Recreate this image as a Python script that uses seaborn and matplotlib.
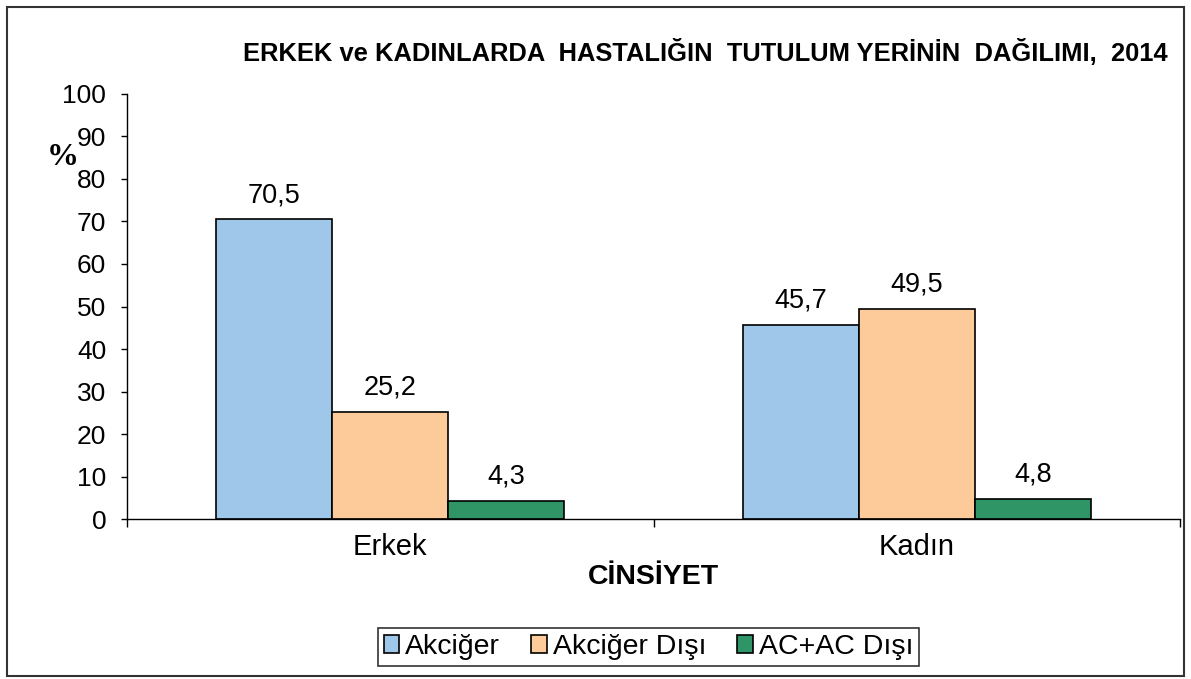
import matplotlib
matplotlib.use("Agg")
import matplotlib.pyplot as plt
import seaborn as sns
import pandas as pd
from matplotlib.patches import Rectangle

categories = ["Erkek", "Kadın"]
series = ["Akciğer", "Akciğer Dışı", "AC+AC Dışı"]
akciger = [70.5, 45.7]
akciger_disi = [25.2, 49.5]
ac_ac_disi = [4.3, 4.8]
yticks = [0, 10, 20, 30, 40, 50, 60, 70, 80, 90, 100]
colors = ["#9FC7EA", "#FCCB99", "#2F9566"]

sns.set_theme(style="white")
plt.rcParams['font.family'] = ['Liberation Sans', 'DejaVu Sans']
plt.rcParams['text.color'] = 'black'
plt.rcParams['axes.labelcolor'] = 'black'
plt.rcParams['xtick.color'] = 'black'
plt.rcParams['ytick.color'] = 'black'

rows = []
for s, vals in zip(series, [akciger, akciger_disi, ac_ac_disi]):
    for c, v in zip(categories, vals):
        rows.append({"Cinsiyet": c, "Seri": s, "Değer": v})
df = pd.DataFrame(rows)

fig = plt.figure(figsize=(11.91, 6.79), dpi=100)
ax = fig.add_axes([0.1066, 0.2356, 0.8844, 0.626])

sns.barplot(data=df, x="Cinsiyet", y="Değer", hue="Seri", order=categories,
            hue_order=series, palette=colors, width=0.66, gap=0,
            edgecolor="black", linewidth=1.2, saturation=1, ax=ax, legend=True)

for cont in ax.containers:
    ax.bar_label(cont, labels=[f"{v:.1f}".replace(".", ",") for v in cont.datavalues],
                 padding=8, fontsize=19.5, color="black")

ax.set_ylim(0, 100)
ax.set_xlim(-0.5, 1.5)
ax.set_yticks(yticks)
ax.set_yticklabels([str(t) for t in yticks], fontsize=19)
ax.set_xticks([0, 1])
ax.set_xticklabels(categories, fontsize=21)
ax.set_xticks([-0.5, 0.5, 1.5], minor=True)
ax.tick_params(axis="x", which="major", length=0, pad=10)
ax.tick_params(axis="x", which="minor", length=6, width=1, color="black", direction="out", bottom=True)
ax.tick_params(axis="y", which="major", length=4, width=1, color="black", direction="out", left=True, pad=11)
for s in ["top", "right"]:
    ax.spines[s].set_visible(False)
for s in ["left", "bottom"]:
    ax.spines[s].set_color("black")
    ax.spines[s].set_linewidth(1)

ax.set_ylabel("")
ax.set_xlabel("CİNSİYET", fontsize=20.5, fontweight="bold", labelpad=2)

fig.text(0.0525, 0.768, "%", fontsize=23, fontweight="bold",
         family=["Liberation Serif", "DejaVu Serif"], ha="center", va="center")
fig.text(0.592, 0.923, "ERKEK ve KADINLARDA  HASTALIĞIN  TUTULUM YERİNİN  DAĞILIMI,  2014",
         fontsize=18.4, fontweight="bold", ha="center", va="center")

handles, labels = ax.get_legend_handles_labels()
ax.legend_.remove()
leg = fig.legend(handles, labels, loc="center", bbox_to_anchor=(0.5445, 0.047), ncol=3,
                 fontsize=20.5, frameon=True, fancybox=False, edgecolor="black",
                 handlelength=0.55, handleheight=0.55, handletextpad=0.2, columnspacing=1.1,
                 borderpad=0.2, borderaxespad=0)
leg.get_frame().set_linewidth(1.2)

fig.patches.append(Rectangle((7/1191, 3/679), 1177/1191, 669/679, transform=fig.transFigure,
                             fill=False, edgecolor="#333333", linewidth=1.5))

fig.savefig("out.png", dpi=100)
